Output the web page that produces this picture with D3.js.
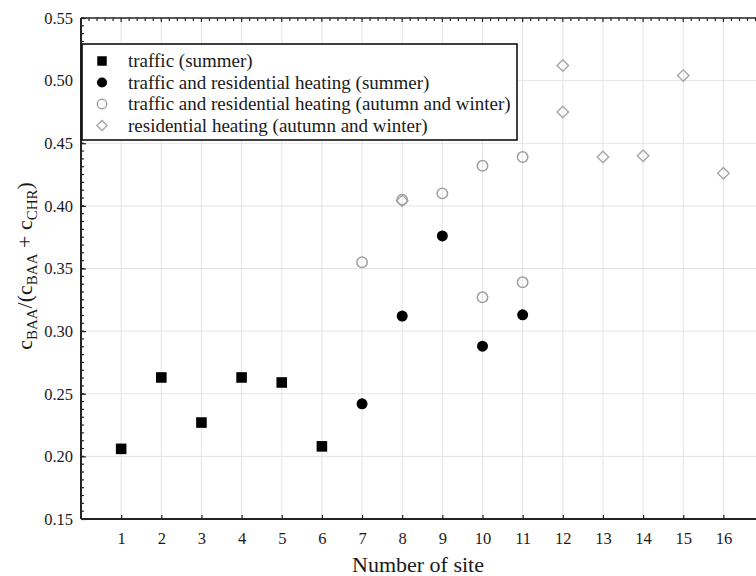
<!DOCTYPE html>
<html>
<head>
<meta charset="utf-8">
<script src="https://cdn.jsdelivr.net/npm/d3@7"></script>
<style>
  html, body { margin: 0; padding: 0; background: #fff; }
  svg { display: block; }
  text { font-family: "Liberation Serif", "Times New Roman", serif; fill: #1a1a1a; }
</style>
</head>
<body>
<svg id="chart" width="756" height="576"></svg>
<script>
// Site numbers and ratio values per source group
const trafficSummerSites = [1, 2, 3, 4, 5, 6];
const trafficSummerValues = [0.206, 0.263, 0.227, 0.263, 0.259, 0.208];

const mixedSummerSites = [7, 8, 9, 10, 11];
const mixedSummerValues = [0.242, 0.312, 0.376, 0.288, 0.313];

const mixedWinterSites = [7, 8, 9, 10, 10, 11, 11];
const mixedWinterValues = [0.355, 0.405, 0.410, 0.432, 0.327, 0.439, 0.339];

const heatingWinterSites = [8, 12, 12, 13, 14, 15, 16];
const heatingWinterValues = [0.404, 0.512, 0.475, 0.439, 0.440, 0.504, 0.426];

const xTicks = [1, 2, 3, 4, 5, 6, 7, 8, 9, 10, 11, 12, 13, 14, 15, 16];
const yTicks = [0.15, 0.20, 0.25, 0.30, 0.35, 0.40, 0.45, 0.50, 0.55];

const legendLabels = [
  "traffic (summer)",
  "traffic and residential heating (summer)",
  "traffic and residential heating (autumn and winter)",
  "residential heating (autumn and winter)"
];

const svg = d3.select("#chart");
const plotLeft = 81, plotTop = 18, plotBottom = 519, plotRight = 756;

const x = d3.scaleLinear().domain([0, 17]).range([plotLeft, plotLeft + 40.15 * 17]);
const y = d3.scaleLinear().domain([0.15, 0.55]).range([plotBottom, plotTop]);

// grid
const grid = svg.append("g");
grid.selectAll("line.v").data(xTicks).join("line")
  .attr("x1", d => x(d)).attr("x2", d => x(d))
  .attr("y1", plotTop).attr("y2", plotBottom)
  .attr("stroke", "#e4e4e4").attr("stroke-width", 1);
grid.selectAll("line.h").data(yTicks.slice(1, -1)).join("line")
  .attr("x1", plotLeft).attr("x2", plotRight)
  .attr("y1", d => y(d)).attr("y2", d => y(d))
  .attr("stroke", "#e4e4e4").attr("stroke-width", 1);

// minor ticks along left and top edges
const yMinor = d3.range(0, 65).map(i => 0.15 + i * 0.00625).filter(v => v < 0.5501);
svg.append("g").selectAll("line").data(yMinor).join("line")
  .attr("x1", plotLeft).attr("x2", plotLeft + 3)
  .attr("y1", d => y(d)).attr("y2", d => y(d))
  .attr("stroke", "#222").attr("stroke-width", 1.2);
const xMinor = d3.range(0, 86).map(i => i * 0.2);
svg.append("g").selectAll("line").data(xMinor).join("line")
  .attr("x1", d => x(d)).attr("x2", d => x(d))
  .attr("y1", plotTop).attr("y2", d => plotTop + (Math.abs(d - Math.round(d)) < 1e-6 ? 4 : 3))
  .attr("stroke", "#222").attr("stroke-width", 1.2);

// axes
const xAxis = svg.append("g").attr("transform", `translate(0,${plotBottom})`)
  .call(d3.axisBottom(x).tickValues(xTicks).tickSize(-4).tickPadding(13).tickFormat(d3.format("d")));
xAxis.select(".domain").remove();
xAxis.selectAll(".tick line").attr("stroke", "#222").attr("stroke-width", 1.2);
xAxis.selectAll("text").attr("font-size", 16.5).attr("fill", "#1a1a1a")
  .attr("font-family", "Liberation Serif, serif");

const yAxis = svg.append("g").attr("transform", `translate(${plotLeft},0)`)
  .call(d3.axisLeft(y).tickValues(yTicks).tickSize(-5).tickPadding(8).tickFormat(d3.format(".2f")));
yAxis.select(".domain").remove();
yAxis.selectAll(".tick line").attr("stroke", "#222").attr("stroke-width", 1.2);
yAxis.selectAll("text").attr("font-size", 16.5).attr("fill", "#1a1a1a")
  .attr("font-family", "Liberation Serif, serif");

// frame lines
svg.append("line").attr("x1", plotLeft).attr("x2", plotRight).attr("y1", plotBottom).attr("y2", plotBottom)
  .attr("stroke", "#222").attr("stroke-width", 2);
svg.append("line").attr("x1", plotLeft).attr("x2", plotRight).attr("y1", plotTop).attr("y2", plotTop)
  .attr("stroke", "#222").attr("stroke-width", 1.6);
svg.append("line").attr("x1", plotLeft).attr("x2", plotLeft).attr("y1", plotTop).attr("y2", plotBottom)
  .attr("stroke", "#222").attr("stroke-width", 2);

// markers
const sq = d3.symbol().type(d3.symbolSquare).size(112)();
const circ = d3.symbol().type(d3.symbolCircle).size(95)();
const ocirc = d3.symbol().type(d3.symbolCircle).size(85)();
const diam = d3.symbol().type(d3.symbolSquare).size(66)();

function zip(a, b) { return a.map((v, i) => [v, b[i]]); }

const marks = svg.append("g");
marks.selectAll("path.hw").data(zip(heatingWinterSites, heatingWinterValues)).join("path")
  .attr("d", diam)
  .attr("transform", d => `translate(${x(d[0])},${y(d[1])}) rotate(45)`)
  .attr("fill", "none").attr("stroke", "#a6a6a6").attr("stroke-width", 1.4);
marks.selectAll("path.mw").data(zip(mixedWinterSites, mixedWinterValues)).join("path")
  .attr("d", ocirc)
  .attr("transform", d => `translate(${x(d[0])},${y(d[1])})`)
  .attr("fill", "none").attr("stroke", "#a0a0a0").attr("stroke-width", 1.5);
marks.selectAll("path.ms").data(zip(mixedSummerSites, mixedSummerValues)).join("path")
  .attr("d", circ)
  .attr("transform", d => `translate(${x(d[0])},${y(d[1])})`)
  .attr("fill", "#000");
marks.selectAll("path.ts").data(zip(trafficSummerSites, trafficSummerValues)).join("path")
  .attr("d", sq)
  .attr("transform", d => `translate(${x(d[0])},${y(d[1])})`)
  .attr("fill", "#000");

// legend
const lg = svg.append("g");
lg.append("rect").attr("x", 82).attr("y", 44).attr("width", 435).attr("height", 96)
  .attr("fill", "#fff").attr("stroke", "#111").attr("stroke-width", 1.6);
const rowY = [61, 82.5, 104, 125.5];
const legendSymbols = [
  { d: d3.symbol().type(d3.symbolSquare).size(90)(), fill: "#000", stroke: "none", rot: 0 },
  { d: d3.symbol().type(d3.symbolCircle).size(80)(), fill: "#000", stroke: "none", rot: 0 },
  { d: d3.symbol().type(d3.symbolCircle).size(70)(), fill: "none", stroke: "#a0a0a0", rot: 0 },
  { d: d3.symbol().type(d3.symbolSquare).size(52)(), fill: "none", stroke: "#a6a6a6", rot: 45 }
];
legendLabels.forEach((label, i) => {
  const s = legendSymbols[i];
  lg.append("path").attr("d", s.d)
    .attr("transform", `translate(102,${rowY[i]}) rotate(${s.rot})`)
    .attr("fill", s.fill).attr("stroke", s.stroke).attr("stroke-width", 1.4);
  lg.append("text").attr("x", 128).attr("y", rowY[i] + 6)
    .attr("font-size", 19).text(label);
});

// axis titles
svg.append("text").attr("x", 418).attr("y", 572).attr("text-anchor", "middle")
  .attr("font-size", 22).text("Number of site");

const yt = svg.append("text")
  .attr("transform", `translate(32,266) rotate(-90)`)
  .attr("text-anchor", "middle").attr("font-size", 22);
yt.append("tspan").text("c");
yt.append("tspan").attr("font-size", 15).attr("dy", 5).text("BAA");
yt.append("tspan").attr("dy", -5).text("/(c");
yt.append("tspan").attr("font-size", 15).attr("dy", 5).text("BAA");
yt.append("tspan").attr("dy", -5).text(" + c");
yt.append("tspan").attr("font-size", 15).attr("dy", 5).text("CHR");
yt.append("tspan").attr("dy", -5).text(")");
</script>
</body>
</html>
